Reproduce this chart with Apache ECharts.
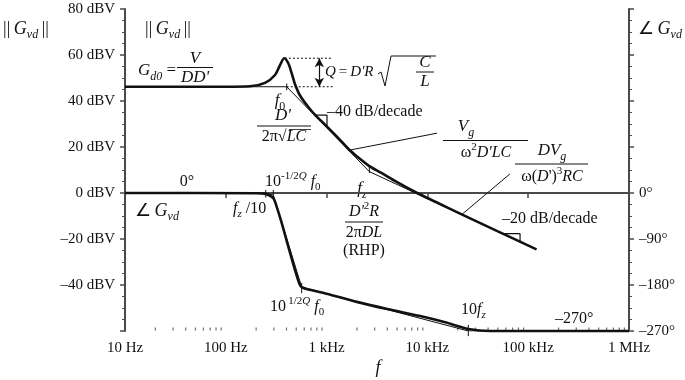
<!DOCTYPE html>
<html><head><meta charset="utf-8">
<script src="https://cdn.jsdelivr.net/npm/echarts@6/dist/echarts.min.js"></script>
<style>html,body{margin:0;padding:0;background:#fff}#c{width:685px;height:380px}</style>
</head><body><div id="c"></div>
<script>
// ---- data ----
const xTickLabels = {10:'10 Hz',100:'100 Hz',1000:'1 kHz',10000:'10 kHz',100000:'100 kHz',1000000:'1 MHz'};
const magFreq = [10, 100, 174, 245, 308, 345, 380, 417, 451, 486, 545, 658, 798, 1002, 1300, 1667, 2000, 2655, 3500, 5000, 8000, 12000, 21880, 50000, 120800];
const magDb   = [46.2, 46.2, 46.4, 47.9, 51.3, 55.6, 58.6, 56.4, 52.0, 47.3, 42.4, 37.4, 33.2, 29.0, 24.0, 18.9, 15.9, 11.7, 8.7, 4.7, -0.1, -3.8, -9.3, -16.7, -24.5];
const magAsymFreq = [10, 402, 2655, 120800];
const magAsymDb   = [46.2, 46.2, 9.3, -24.5];
const phFreq = [10, 200, 249, 296, 320, 359, 417, 486, 536, 566, 700, 1000, 1990, 4000, 9100, 15000, 25460, 41800, 1000000];
const phDeg  = [0, -0.5, -2, -10, -27, -59, -105, -151, -177, -184, -190, -197, -213, -227, -242, -253, -266, -270, -270];
const phAsymFreq = [10, 249, 296, 566, 25460, 1000000];
const phAsymDeg  = [0, 0, -4, -184, -270, -270];
const markerFreq = [1667, 21880];
const markerDb   = [18.6, -9.4];
const leaderEndFreq = [12450, 65900];
const leaderEndDb   = [26.0, 8.3];
const peakFreq = 386, peakDb = 58.6, f0 = 402, gd0Db = 46.2, dottedEndFreq = 1156, arrowFreq = 847;
const tri40Freq = [750, 1009, 1009], tri40Db = [33.9, 33.9, 28.3];
const tri20Freq = [56200, 83000, 83000], tri20Db = [-17.7, -17.7, -21.2];
const magTickFreq = [402, 2655], magTickLo = [44.7, 8.7], magTickHi = [47.6, 11.5];
const phTickFreq = [249, 296, 566, 25460], phTickLo = [-9, -9, -196, -280], phTickHi = [6, 6, -176, -258];

// ---- chart ----
const FF = '"Liberation Serif","Times New Roman",serif';
const INK = '#111', AX = '#4a4a4a';
const zip = (a, b) => a.map((v, i) => [v, b[i]]);
const series = [];
function seg(data, yi, width, extra) {
  series.push(Object.assign({type:'line', xAxisIndex:0, yAxisIndex:yi, data, symbol:'none', silent:true,
    lineStyle:{color:INK, width}, animation:false}, extra||{}));
}
seg(zip(magAsymFreq, magAsymDb), 0, 1);
seg(zip(phAsymFreq, phAsymDeg), 1, 1);
seg(zip(magFreq, magDb), 0, 2.6, {smooth:0.3});
seg(zip(phFreq, phDeg), 1, 2.6, {smooth:0.25, clip:false});
seg([[peakFreq, peakDb],[dottedEndFreq, peakDb]], 0, 1, {lineStyle:{color:INK,width:1,type:[2,2]}});
seg([[f0, gd0Db],[dottedEndFreq, gd0Db]], 0, 1, {lineStyle:{color:INK,width:1,type:[2,2]}});
series.push({type:'line', xAxisIndex:0, yAxisIndex:0, data:[], silent:true, animation:false,
  markLine:{silent:true, symbol:['arrow','arrow'], symbolSize:[7,9], label:{show:false},
    lineStyle:{color:INK, width:1.2, type:'solid'},
    data:[[{coord:[arrowFreq, peakDb]},{coord:[arrowFreq, gd0Db]}]]}});
seg(zip(tri40Freq, tri40Db), 0, 1.2);
seg(zip(tri20Freq, tri20Db), 0, 1.2);
markerFreq.forEach((f, i) => seg([[f, markerDb[i]],[leaderEndFreq[i], leaderEndDb[i]]], 0, 1));
magTickFreq.forEach((f, i) => seg([[f, magTickLo[i]],[f, magTickHi[i]]], 0, 1));
phTickFreq.forEach((f, i) => seg([[f, phTickLo[i]],[f, phTickHi[i]]], 1, 1, {clip:false}));
series.push({type:'scatter', xAxisIndex:0, yAxisIndex:0, data:zip(markerFreq, markerDb), symbol:'emptyCircle',
  symbolSize:[4,6], itemStyle:{color:'#fff', borderColor:INK, borderWidth:1}, silent:true, animation:false});
// x minor ticks (2..9 per decade)
const minor = [];
for (let d = 10; d < 1e6; d *= 10) for (let k = 2; k <= 9; k++) minor.push([d*k, -60]);
series.push({type:'scatter', xAxisIndex:0, yAxisIndex:0, data:minor, symbol:'rect', symbolSize:[1.2,3],
  symbolOffset:[0,-2], itemStyle:{color:AX}, silent:true, animation:false, clip:false});

const chart = echarts.init(document.getElementById('c'));
const grid = {left:125, right:56, top:9, bottom:49};

function rich(sz) {
  const s = Math.round(sz*0.68);
  return {
    n:{fontFamily:FF, fontSize:sz, lineHeight:sz+6, fill:INK},
    i:{fontFamily:FF, fontSize:sz, fontStyle:'italic', lineHeight:sz+6, fill:INK},
    s:{fontFamily:FF, fontSize:s, fontStyle:'italic', lineHeight:s+1, verticalAlign:'bottom', fill:INK},
    sn:{fontFamily:FF, fontSize:s, lineHeight:s+1, verticalAlign:'bottom', fill:INK},
    p:{fontFamily:FF, fontSize:s, lineHeight:s+1, verticalAlign:'top', fill:INK},
    pi:{fontFamily:FF, fontSize:s, fontStyle:'italic', lineHeight:s+1, verticalAlign:'top', fill:INK}
  };
}
const G = [];
function T(x, y, text, sz, align) {
  sz = sz || 16;
  G.push({type:'text', x, y, silent:true, style:{text, rich:rich(sz), align:align||'center', verticalAlign:'middle',
    fontFamily:FF, fontSize:sz, fill:INK}});
}
function L(x1, y1, x2, y2, w) {
  G.push({type:'line', silent:true, shape:{x1,y1,x2,y2}, style:{stroke:INK, lineWidth:w||1}});
}
function P(pts, w) {
  G.push({type:'polyline', silent:true, shape:{points:pts}, style:{stroke:INK, lineWidth:w||1, fill:null}});
}
// headings
T(26, 29, '{n|||\u2009}{i|G}{s|vd}{n|\u2009||}', 18);
T(168, 29, '{n|||\u2009}{i|G}{s|vd}{n|\u2009||}', 18);
T(638, 29, '{n|\u2220\u2009}{i|G}{s|vd}', 18, 'left');
// Gd0
T(138, 71, '{i|G}{s|d0}{n| =}', 17, 'left');
T(195, 59, '{i|V}', 17); L(177, 67.5, 213, 67.5); T(195, 78, "{i|DD'}", 17);
// Q
T(325, 72, "{i|Q}{n|\u2009=\u2009}{i|D'R}", 15, 'left');
P([[378,74],[381,72],[385,86],[391,56],[436,56]], 1);
T(425, 63, '{i|C}', 17); L(416, 72, 434, 72); T(425, 82, '{i|L}', 17);
// f0
T(280, 101, '{i|f}{sn|0}', 17);
T(283, 116, "{i|D'}", 17); L(257, 126, 311, 126); T(284, 137, '{n|2\u03c0\u221a}{i|LC}', 16);
L(289, 129.5, 311, 129.5, 0.8);
T(327, 112, '\u201340 dB/decade', 16, 'left');
// Vg / w^2 D'LC
T(466, 127, '{i|V}{s|g}', 17); L(443, 140.5, 528, 140.5); T(486, 153, "{n|\u03c9}{p|2}{i|D'LC}", 16);
// fz
T(362, 189, '{i|f}{s|z}', 17);
T(364, 212, "{i|D'}{p|2}{i|R}", 16); L(345, 222, 383, 222); T(364, 233, '{n|2\u03c0}{i|DL}', 16);
T(364, 251, '(RHP)', 16);
// DVg / w(D')^3RC
T(552, 151, '{i|DV}{s|g}', 17); L(515, 164, 588, 164); T(552, 177, "{n|\u03c9(}{i|D}{n|')}{p|3}{i|RC}", 16);
T(502, 219, '\u201320 dB/decade', 16, 'left');
// phase annotations
T(187, 182, '0\u00b0', 16);
T(135, 211, '{n|\u2220\u2009}{i|G}{s|vd}', 18, 'left');
T(265, 182, '{n|10}{p|-1/2}{pi|Q}{i| f}{sn|0}', 16, 'left');
T(233, 209, '{i|f}{s|z}{n| /10}', 16, 'left');
T(270, 307, '{n|10}{p|\u20091/2}{pi|Q}{i| f}{sn|0}', 16, 'left');
T(461, 310, '{n|10}{i|f}{s|z}', 16, 'left');
T(555, 319, '\u2013270\u00b0', 16, 'left');
T(378, 368, '{i|f}', 18);

chart.setOption({
  animation:false,
  backgroundColor:'#fff',
  grid,
  xAxis:[{type:'log', logBase:10, min:10, max:1000000,
    axisLine:{lineStyle:{color:AX, width:2}},
    axisTick:{show:true, length:5, lineStyle:{color:AX, width:1.5}},
    axisLabel:{formatter:v => xTickLabels[Math.round(v)] || '', fontFamily:FF, fontSize:15, color:INK, margin:10},
    splitLine:{show:false}, minorTick:{show:false}}],
  yAxis:[
    {type:'value', min:-60, max:80, interval:20, position:'left',
      axisLine:{show:true, lineStyle:{color:AX, width:2}},
      axisTick:{show:true, length:5, lineStyle:{color:AX, width:1.5}},
      minorTick:{show:true, splitNumber:4, length:3, lineStyle:{color:AX}},
      axisLabel:{formatter:v => v === -60 ? '' : (v < 0 ? '\u2013' + (-v) : v) + ' dBV', fontFamily:FF, fontSize:15, color:INK, margin:10},
      splitLine:{show:false}},
    {type:'value', min:-270, max:360, interval:90, position:'right',
      axisLine:{show:true, lineStyle:{color:AX, width:2}},
      axisTick:{show:true, length:5, lineStyle:{color:AX, width:1.5}},
      minorTick:{show:true, splitNumber:4, length:3, lineStyle:{color:AX}},
      axisLabel:{formatter:v => v > 0 ? '' : (v < 0 ? '\u2013' + (-v) : v) + '\u00b0', fontFamily:FF, fontSize:15, color:INK, margin:10},
      splitLine:{show:false}}
  ],
  series,
  graphic:G
});
</script></body></html>
